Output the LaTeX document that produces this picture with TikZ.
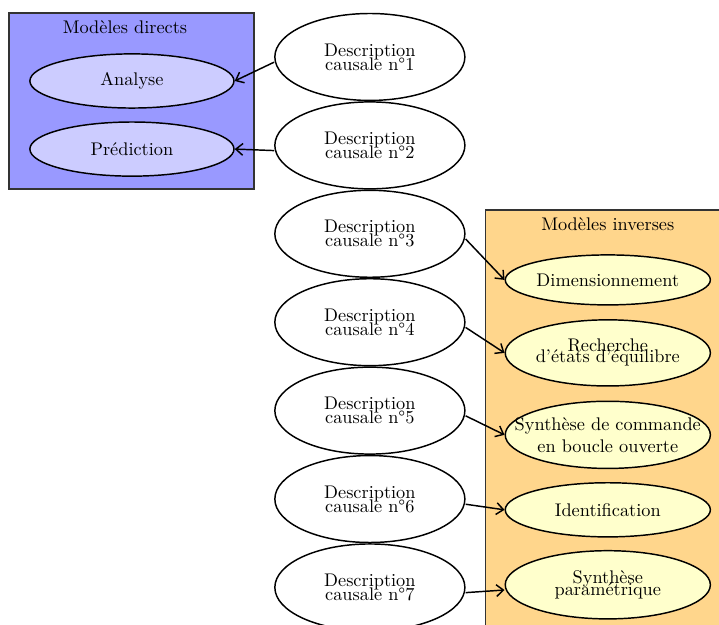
\documentclass[tikz,border=0pt]{standalone}
\usepackage{tikz}
\usetikzlibrary{shapes.geometric,arrows.meta,positioning}
\definecolor{modBlue}{RGB}{153,153,255}
\definecolor{modBlueLight}{RGB}{204,204,255}
\definecolor{modOrange}{RGB}{255,214,140}
\definecolor{modYellow}{RGB}{255,255,204}
\tikzset{
  modbox/.style={
    rectangle, draw=black!80, thick, fill=#1,
    inner sep=0pt
  },
  causal/.style={
    ellipse, draw=black, thick, fill=white,
    minimum width=3.65cm, minimum height=1.67cm,
    inner sep=0pt, align=center
  },
  direct/.style={
    ellipse, draw=black, thick, fill=modBlueLight,
    minimum width=3.92cm, minimum height=#1,
    inner sep=0pt, align=center
  },
  inverse/.style={
    ellipse, draw=black, thick, fill=modYellow,
    minimum width=3.94cm, minimum height=#1,
    inner ysep=0pt, inner xsep=-0.5cm, align=center
  },
  myarr/.style={-{Straight Barb[angle=80:5pt]}, thick},
}

\begin{document}
\begin{tikzpicture}
  \clip (0,0) rectangle (13.81,-12.0);

  % Boxes
  \node[modbox=modBlue, minimum width=4.70cm, minimum height=3.38cm] (dirbox) at (2.525,-1.94) {};
  \node[modbox=modOrange, minimum width=4.97cm, minimum height=8.37cm] (invbox) at (11.815,-8.216) {};
  \node (dirtitle) at (2.40,-0.52) {Modèles directs};
  \node (invtitle) at (11.674,-4.30) {Modèles inverses};

  % Direct models
  \node[direct=1.04cm] (ana) at (2.534,-1.555) {Analyse};
  \node[direct=1.04cm, below=0.24cm of ana] (pred) {Prédiction};

  % Causal descriptions
  \node[causal] (d1) at (7.104,-1.094) {Description\\[-4.3pt]causale n°1};
  \node[causal, below=0cm of d1] (d2) {Description\\[-4.3pt]causale n°2};
  \node[causal, below=0cm of d2] (d3) {Description\\[-4.3pt]causale n°3};
  \node[causal, below=0cm of d3] (d4) {Description\\[-4.3pt]causale n°4};
  \node[causal, below=0cm of d4] (d5) {Description\\[-4.3pt]causale n°5};
  \node[causal, below=0cm of d5] (d6) {Description\\[-4.3pt]causale n°6};
  \node[causal, below=0cm of d6] (d7) {Description\\[-4.3pt]causale n°7};

  % Inverse models
  \node[inverse=0.96cm] (dim)   at (11.674,-5.376) {Dimensionnement};
  \node[inverse=1.27cm] (rech)  at (11.674,-6.778) {Recherche\\[-6pt]d’états d’équilibre};
  \node[inverse=1.29cm] (sbo)   at (11.674,-8.352) {Synthèse de commande\\en boucle ouverte};
  \node[inverse=1.04cm] (ident) at (11.674,-9.792) {Identification};
  \node[inverse=1.31cm] (sp)    at (11.674,-11.232) {Synthèse\\[-5.3pt]paramétrique};

  % Arrows
  \draw[myarr] ([yshift=-0.1cm]d1.west) -- (ana.east);
  \draw[myarr] ([yshift=-0.1cm]d2.west) -- (pred.east);
  \draw[myarr] ([yshift=-0.1cm]d3.east) -- (dim.west);
  \draw[myarr] ([yshift=-0.1cm]d4.east) -- (rech.west);
  \draw[myarr] ([yshift=-0.1cm]d5.east) -- (sbo.west);
  \draw[myarr] ([yshift=-0.1cm]d6.east) -- (ident.west);
  \draw[myarr] ([yshift=-0.1cm]d7.east) -- ([yshift=-0.1cm]sp.west);
\end{tikzpicture}
\end{document}
